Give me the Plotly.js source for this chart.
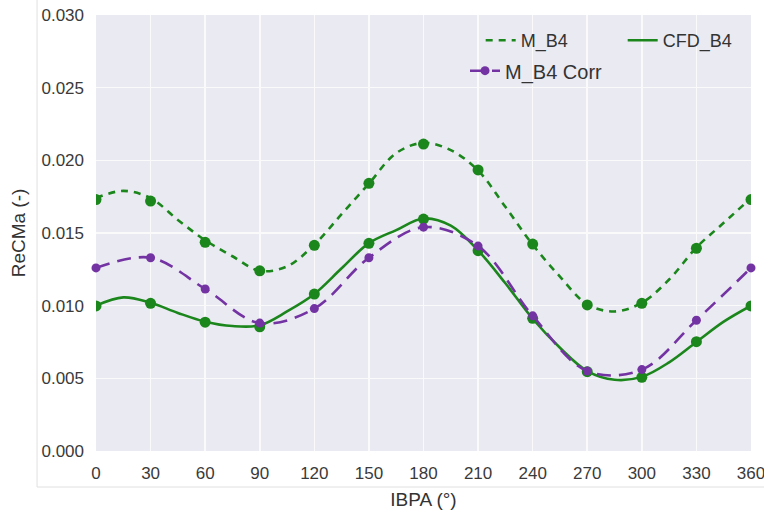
<!DOCTYPE html>
<html>
<head>
<meta charset="utf-8">
<script src="https://cdn.plot.ly/plotly-3.0.1.min.js"></script>
<style>html,body{margin:0;padding:0;background:#fff;}#chart{width:764px;height:511px;}</style>
</head>
<body>
<div id="chart"></div>
<script>
// IBPA positions of the measured / computed points
const ibpaPoints = [0, 30, 60, 90, 120, 150, 180, 210, 240, 270, 300, 330, 360];
// IBPA positions of the fitted curves
const ibpaCurve = [0, 15, 30, 45, 60, 75, 90, 105, 120, 135, 150, 165, 180, 195, 210, 225, 240, 255, 270, 285, 300, 315, 330, 345, 360];

// M_B4 points and fitted curve
const mB4Points = [0.0173, 0.0172, 0.01436, 0.0124, 0.01415, 0.01842, 0.02112, 0.01934, 0.01424, 0.01005, 0.01016, 0.01395, 0.0173];
const mB4Curve = [0.0174, 0.0179, 0.0174, 0.0159, 0.0145, 0.0134, 0.0124, 0.0127, 0.0142, 0.0163, 0.0184, 0.0205, 0.0212, 0.0207, 0.0193, 0.0168, 0.0142, 0.0120, 0.0101, 0.0096, 0.0102, 0.0118, 0.0140, 0.0157, 0.0174];

// CFD_B4 points and fitted curve
const cfdPoints = [0.00998, 0.01016, 0.00886, 0.00855, 0.0108, 0.01429, 0.01596, 0.01378, 0.00913, 0.00546, 0.00507, 0.00752, 0.00998];
const cfdCurve = [0.0100, 0.01057, 0.0102, 0.0095, 0.0089, 0.0086, 0.00865, 0.0096, 0.0108, 0.01257, 0.0143, 0.0152, 0.0160, 0.0155, 0.0138, 0.01154, 0.0091, 0.0071, 0.0055, 0.0049, 0.0051, 0.0061, 0.0075, 0.0089, 0.0100];

// M_B4 Corr points
const corrPoints = [0.0126, 0.0133, 0.01115, 0.0088, 0.0098, 0.0133, 0.0154, 0.0141, 0.0093, 0.0055, 0.0056, 0.0090, 0.0126];

const xTicks = [0, 30, 60, 90, 120, 150, 180, 210, 240, 270, 300, 330, 360];
const yTicks = [0.000, 0.005, 0.010, 0.015, 0.020, 0.025, 0.030];

const green = '#1b861b';
const purple = '#7433a3';

const data = [
  {x: ibpaCurve, y: mB4Curve, name: 'M_B4', type: 'scatter', mode: 'lines', legend: 'legend',
   line: {color: green, width: 2.6, dash: '7px,6px', shape: 'spline', smoothing: 1}},
  {x: ibpaPoints, y: mB4Points, name: 'M_B4 pts', showlegend: false, type: 'scatter', mode: 'markers',
   marker: {color: green, size: 11}},
  {x: ibpaCurve, y: cfdCurve, name: 'CFD_B4', type: 'scatter', mode: 'lines', legend: 'legend2',
   line: {color: green, width: 2.6, shape: 'spline', smoothing: 1}},
  {x: ibpaPoints, y: cfdPoints, name: 'CFD_B4 pts', showlegend: false, type: 'scatter', mode: 'markers',
   marker: {color: green, size: 11}},
  {x: ibpaPoints, y: corrPoints, name: 'M_B4 Corr', type: 'scatter', mode: 'lines+markers', legend: 'legend3',
   cliponaxis: false,
   line: {color: purple, width: 2.6, dash: '14px,8px', shape: 'spline', smoothing: 1},
   marker: {color: purple, size: 9}}
];

const legendFont = {size: 18, color: '#333', family: 'Liberation Sans, Arial, sans-serif'};

const layout = {
  width: 764, height: 511,
  margin: {l: 96, r: 13, t: 15, b: 60},
  paper_bgcolor: '#ffffff',
  plot_bgcolor: '#eaeaf2',
  font: {family: 'Liberation Sans, Arial, sans-serif', color: '#3a3a3a'},
  showlegend: true,
  legend: {orientation: 'h', x: 0.5873, xanchor: 'left', y: 0.984, yanchor: 'top',
           bgcolor: 'rgba(0,0,0,0)', font: legendFont},
  legend2: {orientation: 'h', x: 0.8041, xanchor: 'left', y: 0.984, yanchor: 'top',
           bgcolor: 'rgba(0,0,0,0)', font: legendFont},
  legend3: {orientation: 'h', x: 0.5634, xanchor: 'left', y: 0.917, yanchor: 'top',
           bgcolor: 'rgba(0,0,0,0)', font: {size: 20, color: '#333', family: 'Liberation Sans, Arial, sans-serif'}},
  xaxis: {range: [0, 360], tickvals: xTicks, ticktext: xTicks.map(String), ticklabeloverflow: 'allow',
          showgrid: true, gridcolor: '#fafafa', gridwidth: 1.6, zeroline: false, showline: false,
          ticks: '', ticklabelstandoff: 10, tickfont: {size: 17, color: '#3a3a3a'},
          title: {text: 'IBPA (°)', font: {size: 19, color: '#333'}, standoff: 10}},
  yaxis: {range: [0, 0.030], tickvals: yTicks, tickformat: '.3f',
          showgrid: true, gridcolor: '#fafafa', gridwidth: 1.6, zeroline: false, showline: false,
          ticks: '', ticklabelstandoff: 11, tickfont: {size: 17, color: '#3a3a3a'},
          title: {text: 'ReCMa (-)', font: {size: 19, color: '#333'}, standoff: 10}},
  shapes: [
    {type: 'rect', xref: 'paper', yref: 'paper', x0: -0.09, x1: 1.2, y0: -0.0826, y1: 1.2,
     line: {color: '#e0e0e0', width: 1}, fillcolor: 'rgba(0,0,0,0)', layer: 'below'}
  ]
};

Plotly.newPlot('chart', data, layout, {displayModeBar: false, staticPlot: true});
</script>
</body>
</html>
